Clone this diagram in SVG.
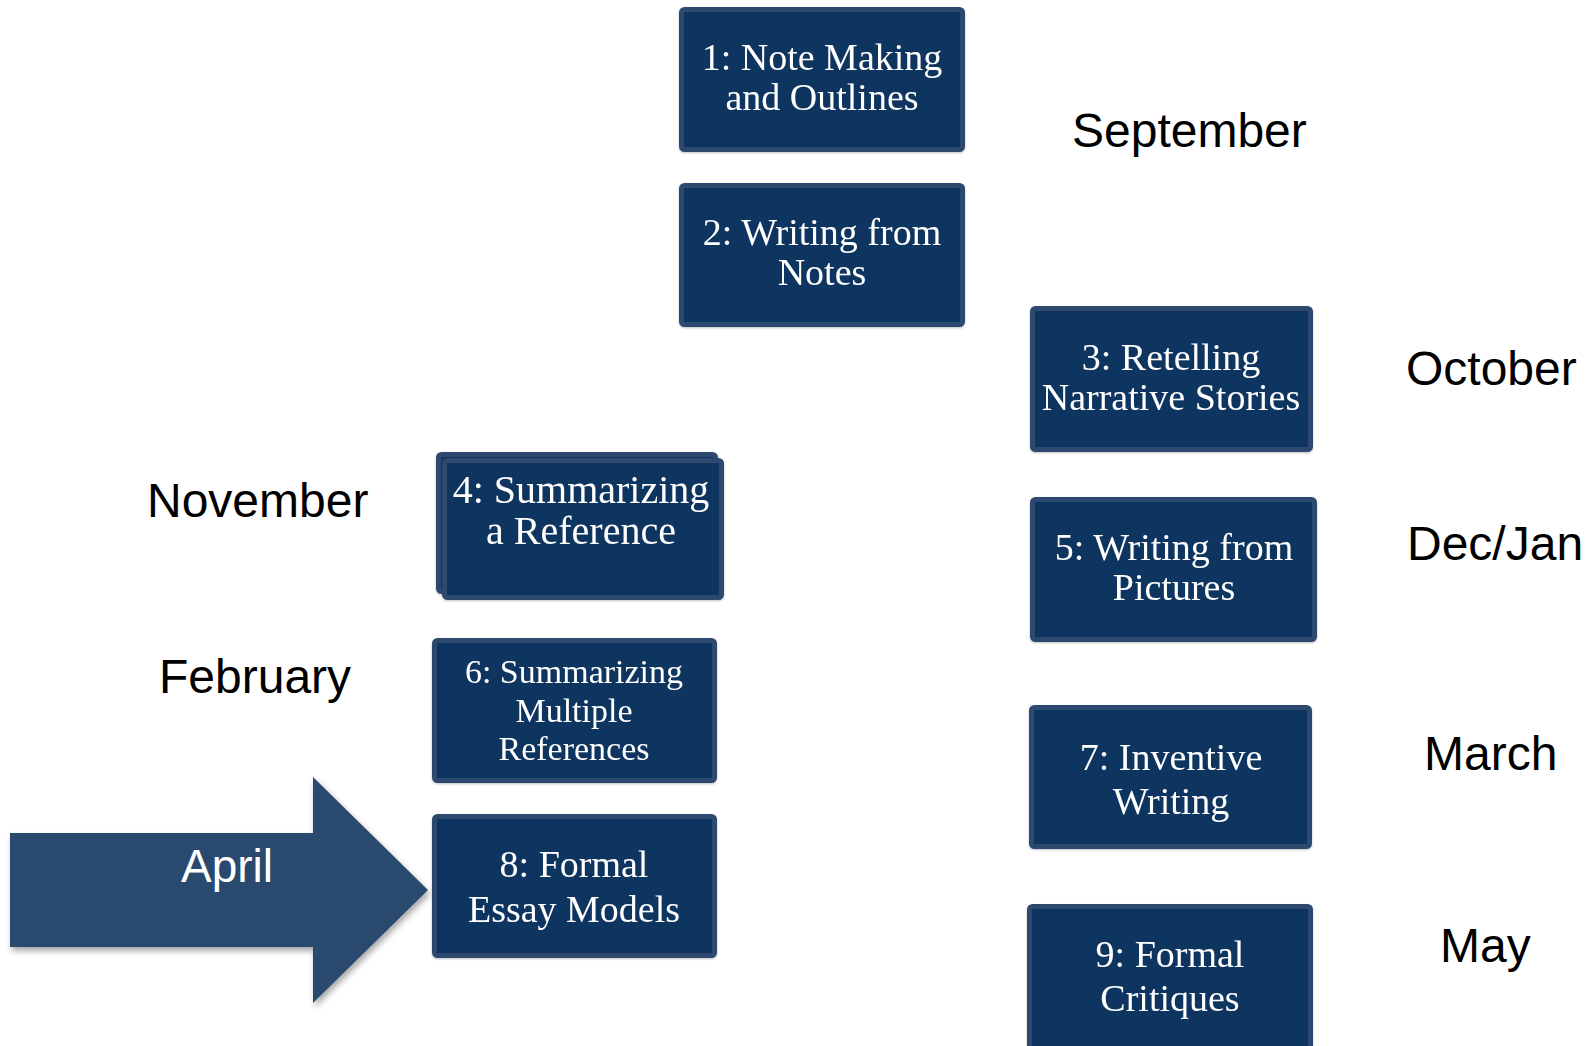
<svg xmlns="http://www.w3.org/2000/svg" width="1589" height="1046" viewBox="0 0 1589 1046">
  <style>
    .box { fill: #11345e; stroke: #2d4a6f; stroke-width: 5; }
    .bt { font-family: "Liberation Serif", "DejaVu Serif", serif; fill: #ffffff; text-anchor: middle; }
    .month { font-family: "Liberation Sans", Arial, sans-serif; font-size: 48px; fill: #000000; }
  </style>
  <defs>
    <filter id="sh" x="-10%" y="-10%" width="130%" height="130%">
      <feDropShadow dx="2" dy="4" stdDeviation="3" flood-color="#000000" flood-opacity="0.35"/>
    </filter>
    <filter id="bsh" x="-5%" y="-5%" width="110%" height="115%">
      <feDropShadow dx="0" dy="1" stdDeviation="1" flood-color="#000000" flood-opacity="0.25"/>
    </filter>
  </defs>

  <g id="connectors">
    <g id="april-arrow">
      <path d="M10,833 L313,833 L313,777 L428,890 L313,1003 L313,947 L10,947 Z" fill="#2c4a6e" filter="url(#sh)"/>
      <text x="227" y="882" font-family="Liberation Sans, Arial, sans-serif" font-size="46" fill="#ffffff" text-anchor="middle">April</text>
    </g>
  </g>

  <g id="node1" filter="url(#bsh)">
    <rect class="box" x="681.5" y="9.5" width="281" height="140" rx="3"/>
    <text class="bt" font-size="38" x="822" y="70">1: Note Making</text>
    <text class="bt" font-size="38" x="822" y="110">and Outlines</text>
  </g>

  <g id="node2" filter="url(#bsh)">
    <rect class="box" x="681.5" y="185.5" width="281" height="139" rx="3"/>
    <text class="bt" font-size="38" x="822" y="245">2: Writing from</text>
    <text class="bt" font-size="38" x="822" y="285">Notes</text>
  </g>

  <g id="node3" filter="url(#bsh)">
    <rect class="box" x="1032.5" y="308.5" width="278" height="141" rx="3"/>
    <text class="bt" font-size="38" x="1171" y="370">3: Retelling</text>
    <text class="bt" font-size="38" x="1171" y="410">Narrative Stories</text>
  </g>

  <g id="node4" filter="url(#bsh)">
    <rect class="box" x="438.5" y="454.5" width="277" height="137" rx="3"/>
    <rect class="box" x="444.5" y="460.5" width="277" height="137" rx="3"/>
    <rect x="447" y="463" width="266" height="127" fill="#11345e"/>
    <text class="bt" font-size="40" x="581" y="503">4: Summarizing</text>
    <text class="bt" font-size="40" x="581" y="544">a Reference</text>
  </g>

  <g id="node5" filter="url(#bsh)">
    <rect class="box" x="1032.5" y="499.5" width="282" height="140" rx="3"/>
    <text class="bt" font-size="38" x="1174" y="560">5: Writing from</text>
    <text class="bt" font-size="38" x="1174" y="600">Pictures</text>
  </g>

  <g id="node6" filter="url(#bsh)">
    <rect class="box" x="434.5" y="640.5" width="280" height="140" rx="3"/>
    <text class="bt" font-size="34" x="574" y="683">6: Summarizing</text>
    <text class="bt" font-size="34" x="574" y="722">Multiple</text>
    <text class="bt" font-size="34" x="574" y="760">References</text>
  </g>

  <g id="node7" filter="url(#bsh)">
    <rect class="box" x="1031.5" y="707.5" width="278" height="139" rx="3"/>
    <text class="bt" font-size="38" x="1171" y="770">7: Inventive</text>
    <text class="bt" font-size="38" x="1171" y="814">Writing</text>
  </g>

  <g id="node8" filter="url(#bsh)">
    <rect class="box" x="434.5" y="816.5" width="280" height="139" rx="3"/>
    <text class="bt" font-size="38" x="574" y="877">8: Formal</text>
    <text class="bt" font-size="38" x="574" y="922">Essay Models</text>
  </g>

  <g id="node9" filter="url(#bsh)">
    <rect class="box" x="1029.5" y="906.5" width="281" height="150" rx="3"/>
    <text class="bt" font-size="38" x="1170" y="967">9: Formal</text>
    <text class="bt" font-size="38" x="1170" y="1011">Critiques</text>
  </g>

  <g id="months">
    <text class="month" x="1072" y="147">September</text>
    <text class="month" x="1406" y="385">October</text>
    <text class="month" x="147" y="517">November</text>
    <text class="month" x="1407" y="560">Dec/Jan</text>
    <text class="month" x="159" y="693">February</text>
    <text class="month" x="1424" y="770">March</text>
    <text class="month" x="1440" y="962">May</text>
  </g>
</svg>
